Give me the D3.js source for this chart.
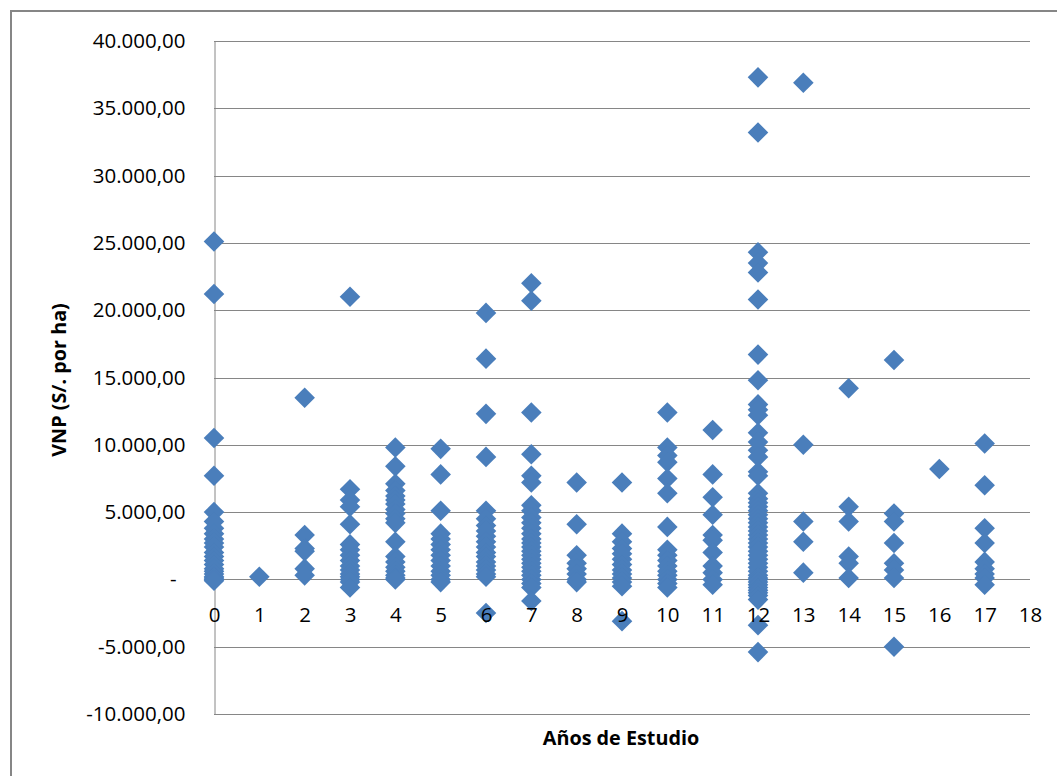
<!DOCTYPE html>
<html>
<head>
<meta charset="utf-8">
<script src="https://cdn.jsdelivr.net/npm/d3@7"></script>
<style>
  html, body { margin: 0; padding: 0; background: #ffffff; }
  svg { display: block; }
  text { font-family: "Open Sans", "Noto Sans", sans-serif; fill: #000; }
</style>
</head>
<body>
<svg id="chart" width="1057" height="776"></svg>
<script>
// ---- Data ----
const yearsOfStudy = [0, 1, 2, 3, 4, 5, 6, 7, 8, 9, 10, 11, 12, 13, 14, 15, 16, 17];
const vnpByYear = [
  [25100, 21200, 10500, 7700, 5000, 4300, 3800, 3400, 3000, 2700, 2400, 2000, 1700, 1400, 1100, 800, 600, 400, 200, 100, 0, -100],
  [200],
  [13500, 3300, 2300, 2100, 800, 300],
  [21000, 6700, 5900, 5400, 4100, 2600, 2200, 1800, 1400, 1000, 700, 400, 200, 0, -200, -600],
  [9800, 8400, 7100, 6600, 6200, 5900, 5600, 5200, 4900, 4500, 4200, 2800, 1700, 1300, 900, 600, 300, 100, 0],
  [9700, 7800, 5100, 3400, 3000, 2600, 2200, 1800, 1400, 1000, 600, 300, 0, -200],
  [19800, 16400, 12300, 9100, 5100, 4500, 4000, 3600, 3200, 2800, 2400, 2000, 1700, 1300, 1000, 700, 400, 200, -2500],
  [22000, 20700, 12400, 9300, 7700, 7200, 5500, 5100, 4600, 4200, 3800, 3400, 3000, 2700, 2400, 2100, 1800, 1500, 1200, 900, 600, 300, 0, -300, -600, -1600],
  [7200, 4100, 1800, 1200, 800, 400, 0, -200],
  [7200, 3400, 2800, 2300, 1900, 1500, 1100, 700, 400, 100, -200, -500, -3100],
  [12400, 9800, 9200, 8700, 7500, 6400, 3900, 2200, 1800, 1400, 1000, 600, 300, 0, -300, -600],
  [11100, 7800, 6100, 4800, 3300, 2900, 2000, 1000, 500, 0, -400],
  [37300, 33200, 24300, 23500, 22800, 20800, 16700, 14800, 13000, 12600, 12200, 10900, 10200, 9600, 9100, 8000, 7700, 6400, 6000, 5700, 5400, 5100, 4800, 4500, 4200, 3900, 3600, 3300, 3000, 2700, 2400, 2100, 1800, 1500, 1200, 900, 600, 300, 100, 0, -200, -400, -600, -800, -1000, -1200, -1500, -3400, -5400],
  [36900, 10000, 4300, 2800, 500],
  [14200, 5400, 4300, 1700, 1200, 100],
  [16300, 4900, 4300, 2700, 1200, 700, 100, -5000],
  [8200],
  [10100, 7000, 3800, 2700, 1300, 800, 400, 100, -400]
];
const xTicks = [0, 1, 2, 3, 4, 5, 6, 7, 8, 9, 10, 11, 12, 13, 14, 15, 16, 17, 18];
const yTicks = [-10000, -5000, 0, 5000, 10000, 15000, 20000, 25000, 30000, 35000, 40000];
const xTitle = "Años de Estudio";
const yTitle = "VNP (S/. por ha)";

// ---- Build points ----
const points = [];
yearsOfStudy.forEach((yr, i) => vnpByYear[i].forEach(v => points.push({ x: yr, y: v })));

const svg = d3.select("#chart");
const gridColor = "#868686";
const markerColor = "#4A7EBB";

// outer chart-area border
svg.append("rect")
  .attr("x", 11).attr("y", 11)
  .attr("width", 1200).attr("height", 900)
  .attr("fill", "#fff")
  .attr("stroke", gridColor).attr("stroke-width", 2);

const x = d3.scaleLinear().domain([0, 18]).range([214, 1030]);
const y = d3.scaleLinear().domain([-10000, 40000]).range([714, 41]);

const locale = d3.formatLocale({ decimal: ",", thousands: ".", grouping: [3], currency: ["", ""], minus: "-" });
const fmt = locale.format(",.2f");

// gridlines
svg.append("g").selectAll("line").data(yTicks).join("line")
  .attr("x1", x(0)).attr("x2", x(18))
  .attr("y1", d => Math.round(y(d)) + 0.5).attr("y2", d => Math.round(y(d)) + 0.5)
  .attr("stroke", gridColor).attr("stroke-width", 1);

// y axis
const yAxis = svg.append("g")
  .attr("transform", `translate(${Math.round(x(0)) + 0.5},0)`)
  .call(d3.axisLeft(y).tickValues(yTicks).tickSize(0).tickSizeOuter(0).tickPadding(29)
    .tickFormat(d => d === 0 ? "-" : fmt(d)));
yAxis.select(".domain").attr("stroke", gridColor);
yAxis.selectAll(".tick text")
  .style("font-size", "20.5px")
  .attr("fill", "#000")
  .attr("x", d => d === 0 ? -38 : -29);

// markers
const diamond = d3.symbol().type(d3.symbolSquare).size(212);
svg.append("g").selectAll("path").data(points).join("path")
  .attr("d", diamond)
  .attr("transform", d => `translate(${x(d.x)},${y(d.y)}) rotate(45)`)
  .attr("fill", markerColor);

// x axis (labels only, crossing at zero) drawn over the markers
const xAxis = svg.append("g")
  .attr("transform", `translate(0,${y(0)})`)
  .call(d3.axisBottom(x).tickValues(xTicks).tickSize(0).tickSizeOuter(0).tickPadding(28)
    .tickFormat(d3.format("d")));
xAxis.select(".domain").remove();
xAxis.selectAll(".tick text").style("font-size", "20.5px").attr("fill", "#000");

// axis titles
svg.append("text")
  .attr("x", 621).attr("y", 737)
  .attr("text-anchor", "middle").attr("dominant-baseline", "central")
  .style("font-size", "19.8px").style("font-weight", "bold")
  .text(xTitle);

svg.append("text")
  .attr("transform", "translate(58,380) rotate(-90)")
  .attr("text-anchor", "middle").attr("dominant-baseline", "central")
  .style("font-size", "19.8px").style("font-weight", "bold")
  .text(yTitle);
</script>
</body>
</html>
